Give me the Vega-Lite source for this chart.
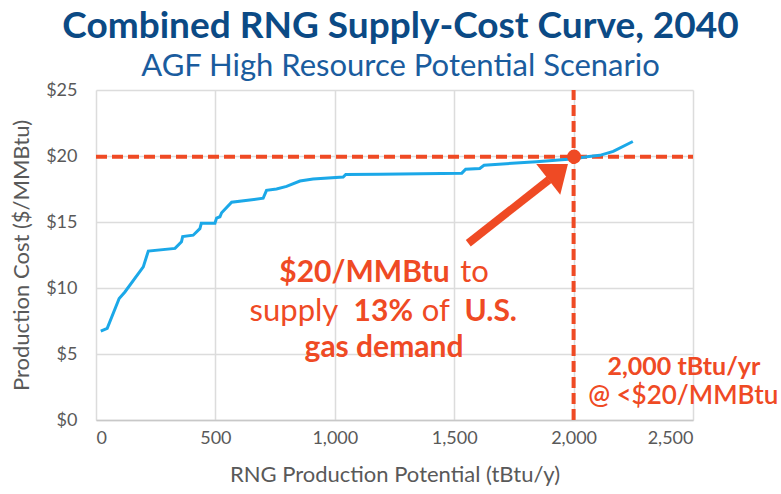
{
  "$schema": "https://vega.github.io/schema/vega-lite/v6.json",
  "width": 597,
  "height": 330,
  "autosize": {"type": "none"},
  "padding": {"left": 96, "top": 90, "right": 88, "bottom": 74},
  "background": "white",
  "config": {"view": {"stroke": null}, "font": "Lato"},
  "title": {
    "text": "Combined RNG Supply-Cost Curve, 2040",
    "subtitle": "AGF High Resource Potential Scenario",
    "font": "Lato",
    "fontSize": 37,
    "fontWeight": "bold",
    "color": "#0b4a85",
    "subtitleFont": "Lato",
    "subtitleFontSize": 31,
    "subtitleFontWeight": "normal",
    "subtitleColor": "#1a5c9e",
    "anchor": "middle",
    "offset": -2,
    "subtitlePadding": 6,
    "dx": 6
  },
  "layer": [
    {
      "data": {"values": [{"potential": 0, "potential_end": 2500, "cost": 19.95}]},
      "mark": {"type": "rule", "color": "#ef4a24", "strokeWidth": 4, "strokeDash": [11, 5]},
      "encoding": {
        "x": {
          "field": "potential", "type": "quantitative",
          "scale": {"domain": [0, 2500], "nice": false},
          "axis": {
            "values": [0, 500, 1000, 1500, 2000, 2500],
            "format": ",d",
            "title": "RNG Production Potential (tBtu/y)",
            "labelFontSize": 18, "labelColor": "#595959", "labelPadding": 9, "labelFont": "Lato",
            "ticks": false, "domainColor": "#c8c8c8", "domainWidth": 1.5,
            "gridColor": "#dcdcdc", "gridWidth": 1.5,
            "titleFont": "Lato", "titleFontSize": 22, "titleFontWeight": "normal", "titleColor": "#595959", "titlePadding": 17
          }
        },
        "x2": {"field": "potential_end"},
        "y": {
          "field": "cost", "type": "quantitative",
          "scale": {"domain": [0, 25], "nice": false},
          "axis": {
            "values": [0, 5, 10, 15, 20, 25],
            "labelExpr": "'$' + datum.value",
            "title": "Production Cost ($/MMBtu)",
            "labelFontSize": 18, "labelColor": "#595959", "labelPadding": 19, "labelFont": "Lato",
            "ticks": false, "domain": false,
            "gridColor": "#dcdcdc", "gridWidth": 1.5,
            "titleFont": "Lato", "titleFontSize": 22, "titleFontWeight": "normal", "titleColor": "#595959", "titlePadding": 12
          }
        }
      }
    },
    {
      "data": {"values": [{"potential": 2000, "cost": 0, "cost_end": 25}]},
      "mark": {"type": "rule", "color": "#ef4a24", "strokeWidth": 4, "strokeDash": [11, 5]},
      "encoding": {
        "x": {"field": "potential", "type": "quantitative"},
        "y": {"field": "cost", "type": "quantitative"},
        "y2": {"field": "cost_end"}
      }
    },
    {
      "data": {"values": [
        {"potential": 20, "cost": 6.74}, {"potential": 47, "cost": 6.94}, {"potential": 97, "cost": 9.2},
        {"potential": 121, "cost": 9.7}, {"potential": 198, "cost": 11.6}, {"potential": 219, "cost": 12.8},
        {"potential": 331, "cost": 13.0}, {"potential": 358, "cost": 13.5}, {"potential": 363, "cost": 13.9},
        {"potential": 407, "cost": 14.0}, {"potential": 435, "cost": 14.5}, {"potential": 441, "cost": 14.9},
        {"potential": 498, "cost": 14.9}, {"potential": 505, "cost": 15.3}, {"potential": 519, "cost": 15.4},
        {"potential": 526, "cost": 15.7}, {"potential": 568, "cost": 16.5}, {"potential": 700, "cost": 16.8},
        {"potential": 714, "cost": 17.4}, {"potential": 756, "cost": 17.5}, {"potential": 798, "cost": 17.7},
        {"potential": 854, "cost": 18.1}, {"potential": 909, "cost": 18.25}, {"potential": 1035, "cost": 18.4},
        {"potential": 1046, "cost": 18.6}, {"potential": 1188, "cost": 18.62}, {"potential": 1532, "cost": 18.7},
        {"potential": 1548, "cost": 19.0}, {"potential": 1607, "cost": 19.06}, {"potential": 1625, "cost": 19.3},
        {"potential": 1844, "cost": 19.57}, {"potential": 2004, "cost": 19.8}, {"potential": 2055, "cost": 19.95},
        {"potential": 2110, "cost": 20.05}, {"potential": 2166, "cost": 20.35}, {"potential": 2248, "cost": 21.1}
      ]},
      "mark": {"type": "line", "color": "#1ba8e8", "strokeWidth": 3},
      "encoding": {
        "x": {"field": "potential", "type": "quantitative"},
        "y": {"field": "cost", "type": "quantitative"}
      }
    },
    {
      "data": {"values": [{"potential": 2002, "cost": 19.95}]},
      "mark": {"type": "point", "shape": "circle", "filled": true, "opacity": 1, "color": "#ef4a24", "size": 200},
      "encoding": {
        "x": {"field": "potential", "type": "quantitative"},
        "y": {"field": "cost", "type": "quantitative"}
      }
    },
    {
      "data": {"values": [{"potential": 1559, "cost": 13.39, "potential_end": 1897, "cost_end": 18.2}]},
      "mark": {"type": "rule", "color": "#ef4a24", "strokeWidth": 8, "strokeCap": "butt"},
      "encoding": {
        "x": {"field": "potential", "type": "quantitative"},
        "y": {"field": "cost", "type": "quantitative"},
        "x2": {"field": "potential_end"},
        "y2": {"field": "cost_end"}
      }
    },
    {
      "data": {"values": [{"potential": 1935, "cost": 18.81}]},
      "mark": {"type": "point", "shape": "M0,-0.64L-1,0.64L1,0.64Z", "angle": 52, "filled": true, "opacity": 1, "color": "#ef4a24", "size": 1521},
      "encoding": {
        "x": {"field": "potential", "type": "quantitative"},
        "y": {"field": "cost", "type": "quantitative"}
      }
    },
    {
      "data": {"values": [
        {"label": "$20/MMBtu", "potential": 1124, "cost": 10.42},
        {"label": "13%", "potential": 1203, "cost": 7.5},
        {"label": "U.S.", "potential": 1653, "cost": 7.5},
        {"label": "gas demand", "potential": 1206, "cost": 4.8}
      ]},
      "mark": {"type": "text", "font": "Lato", "fontSize": 30, "fontWeight": "bold", "color": "#ef4a24", "align": "center", "baseline": "alphabetic"},
      "encoding": {
        "x": {"field": "potential", "type": "quantitative"},
        "y": {"field": "cost", "type": "quantitative"},
        "text": {"field": "label"}
      }
    },
    {
      "data": {"values": [
        {"label": "to", "potential": 1585, "cost": 10.42},
        {"label": "supply", "potential": 829, "cost": 7.5},
        {"label": "of", "potential": 1423, "cost": 7.5}
      ]},
      "mark": {"type": "text", "font": "Lato", "fontSize": 31, "fontWeight": "normal", "color": "#ef4a24", "align": "center", "baseline": "alphabetic"},
      "encoding": {
        "x": {"field": "potential", "type": "quantitative"},
        "y": {"field": "cost", "type": "quantitative"},
        "text": {"field": "label"}
      }
    },
    {
      "data": {"values": [{"label": "2,000 tBtu/yr", "potential": 2462, "cost": 3.41}]},
      "mark": {"type": "text", "font": "Lato", "fontSize": 25, "fontWeight": "bold", "color": "#ef4a24", "align": "center", "baseline": "alphabetic"},
      "encoding": {
        "x": {"field": "potential", "type": "quantitative"},
        "y": {"field": "cost", "type": "quantitative"},
        "text": {"field": "label"}
      }
    },
    {
      "data": {"values": [{"label": "@ <$20/MMBtu", "potential": 2459, "cost": 1.21}]},
      "mark": {"type": "text", "font": "Lato", "fontSize": 26, "fontWeight": 600, "color": "#ef4a24", "align": "center", "baseline": "alphabetic"},
      "encoding": {
        "x": {"field": "potential", "type": "quantitative"},
        "y": {"field": "cost", "type": "quantitative"},
        "text": {"field": "label"}
      }
    }
  ]
}
